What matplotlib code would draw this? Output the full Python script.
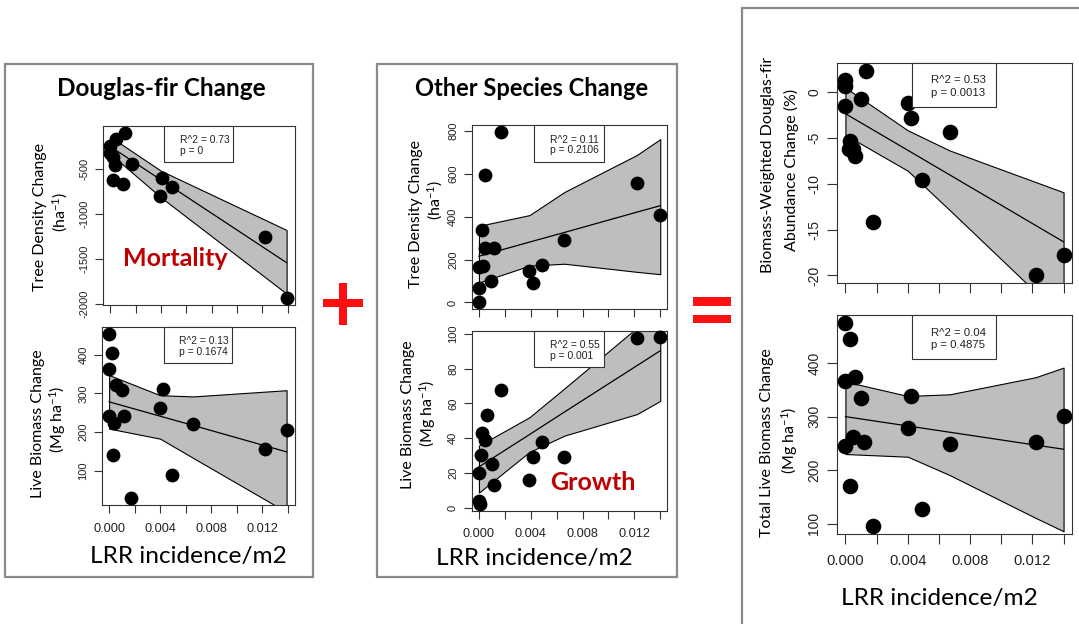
import matplotlib
matplotlib.use("Agg")
import matplotlib.pyplot as plt
from matplotlib.patches import Rectangle

W, H = 1079, 624
plt.rcParams['mathtext.fontset'] = 'custom'
plt.rcParams['mathtext.rm'] = 'Lato'
plt.rcParams['mathtext.it'] = 'Lato:italic'
plt.rcParams['mathtext.bf'] = 'Lato:bold'

# ---------------- data ----------------
x_ticks = [0.000, 0.002, 0.004, 0.006, 0.008, 0.010, 0.012, 0.014]
x_ticklabels = ["0.000", "", "0.004", "", "0.008", "", "0.012", ""]

# Douglas-fir: tree density change
dfd_x = [0.0012, 0.0005, 0.0000, 0.0000, 0.0002, 0.0004, 0.0017, 0.0002, 0.0010,
         0.0041, 0.0049, 0.0039, 0.0122, 0.0139]
dfd_y = [-97, -170, -241, -326, -370, -456, -448, -622, -667, -604, -704, -800, -1259, -1937]
dfd_bx = [0.0, 0.004, 0.0139]
dfd_lo = [-330, -815, -1885]
dfd_fit = [-250, -621, -1541]
dfd_hi = [-141, -520, -1178]
dfd_stats = ["R^2 = 0.73", "p = 0"]
dfd_yticks = [-2000, -1500, -1000, -500]

# Douglas-fir: live biomass change
dfb_x = [0.0000, 0.0002, 0.0000, 0.0005, 0.0010, 0.0000, 0.0004, 0.0012, 0.0003,
         0.0017, 0.0042, 0.0040, 0.0049, 0.0066, 0.0122, 0.0139]
dfb_y = [454, 403, 362, 321, 308, 241, 224, 241, 140, 29, 311, 263, 90, 222, 156, 205]
dfb_bx = [0.0, 0.004, 0.0066, 0.0139]
dfb_lo = [209, 183, 133, -6]
dfb_fit = [278, 241, 217, 149]
dfb_hi = [347, 295, 292, 308]
dfb_stats = ["R^2 = 0.13", "p = 0.1674"]
dfb_yticks = [100, 200, 300, 400]

# Other species: tree density change
osd_x = [0.0017, 0.0005, 0.0002, 0.0005, 0.0012, 0.0000, 0.0003, 0.0009, 0.0000,
         0.0000, 0.0039, 0.0042, 0.0049, 0.0066, 0.0122, 0.0140]
osd_y = [797, 595, 339, 256, 256, 166, 169, 98, 66, 0, 145, 93, 176, 290, 560, 410]
osd_bx = [0.0, 0.0039, 0.0066, 0.0122, 0.014]
osd_lo = [93, 172, 181, 143, 132]
osd_fit = [216, 282, 327, 422, 452]
osd_hi = [358, 408, 516, 689, 763]
osd_stats = ["R^2 = 0.11", "p = 0.2106"]
osd_yticks = [0, 200, 400, 600, 800]

# Other species: live biomass change
osb_x = [0.0000, 0.0001, 0.0000, 0.00015, 0.0002, 0.0005, 0.0006, 0.0010, 0.0012,
         0.0017, 0.0039, 0.0042, 0.0049, 0.0066, 0.0122, 0.0140]
osb_y = [4, 2, 20, 30, 43, 39, 53, 25, 13, 67.5, 16, 29, 38, 29, 97.5, 98]
osb_bx = [0.0, 0.0039, 0.0066, 0.0122, 0.014]
osb_lo = [8.6, 32, 41.4, 53.8, 61.4]
osb_fit = [23.4, 42.0, 55.0, 81.7, 90.3]
osb_hi = [35.7, 52, 68.6, 103.6, 114.6]
osb_stats = ["R^2 = 0.55", "p = 0.001"]
osb_yticks = [0, 20, 40, 60, 80, 100]

# Biomass-weighted Douglas-fir abundance change (%)
bw_x = [0.0000, 0.0000, 0.0000, 0.0013, 0.0010, 0.0003, 0.0002, 0.0005, 0.0006,
        0.00175, 0.0040, 0.0042, 0.0049, 0.0067, 0.0122, 0.0140]
bw_y = [1.28, 0.66, -1.54, 2.27, -0.74, -5.4, -6.24, -6.24, -6.98, -14.14,
        -1.21, -2.86, -9.62, -4.41, -19.9, -17.74]
bw_bx = [0.0, 0.004, 0.0067, 0.014]
bw_lo = [-4.7, -8.6, -12.9, -24.7]
bw_fit = [-2.39, -6.37, -9.06, -16.34]
bw_hi = [0.44, -4.2, -6.4, -10.95]
bw_stats = ["R^2 = 0.53", "p = 0.0013"]
bw_yticks = [-20, -15, -10, -5, 0]

# Total live biomass change
tb_x = [0.0000, 0.0003, 0.0000, 0.0006, 0.0010, 0.0000, 0.0005, 0.0012, 0.0003,
        0.0018, 0.0042, 0.0040, 0.0049, 0.0067, 0.0122, 0.0140]
tb_y = [475, 446, 367, 375, 334, 245, 262, 253, 170, 95, 339, 278, 128, 249, 253, 302]
tb_bx = [0.0, 0.004, 0.0067, 0.0122, 0.014]
tb_lo = [230, 225, 190.5, 110.6, 85.5]
tb_fit = [300, 282.6, 270.8, 246.8, 239]
tb_hi = [365.5, 338.7, 341.8, 373.7, 391.7]
tb_stats = ["R^2 = 0.04", "p = 0.4875"]
tb_yticks = [100, 200, 300, 400]

# ---------------- helpers ----------------
fig = plt.figure(figsize=(W / 100, H / 100), dpi=100)


def fx(px):
    return px / W


def fy(py):
    return 1 - py / H


def axes_px(x0, y0, x1, y1):
    return fig.add_axes([fx(x0), fy(y1), fx(x1) - fx(x0), (y1 - y0) / H])


def panel(rect, xs, ys, bx, lo, fit, hi, yticks, stats, show_xlabels,
          ms, xlab_size, ylab_size, tick_len, stat_size):
    ax = axes_px(*rect)
    # R-style 4% extension from the points only
    xr = 0.014 - 0.0
    ax.set_xlim(0.0 - 0.04 * xr, 0.014 + 0.04 * xr)
    ymin, ymax = min(ys), max(ys)
    yr = ymax - ymin
    ax.set_ylim(ymin - 0.04 * yr, ymax + 0.04 * yr)
    ax.fill_between(bx, lo, hi, facecolor='#BEBEBE', edgecolor='black',
                    linewidth=0.8, zorder=2)
    ax.plot(bx, fit, color='black', linewidth=0.9, zorder=3)
    ax.scatter(xs, ys, s=ms, color='black', zorder=4, clip_on=False)
    ax.set_xticks(x_ticks)
    if show_xlabels:
        ax.set_xticklabels(x_ticklabels, fontsize=xlab_size,
                           family='Liberation Sans', color='#222222')
    else:
        ax.set_xticklabels([])
    ax.set_yticks(yticks)
    ax.set_yticklabels([str(v) for v in yticks], fontsize=ylab_size,
                       family='Liberation Sans', color='#222222',
                       rotation=90, va='center')
    ax.tick_params(direction='out', length=tick_len, width=0.8, color='#333333')
    ax.tick_params(axis='x', pad=7)
    ax.tick_params(axis='y', pad=4)
    for s in ax.spines.values():
        s.set_linewidth(0.8)
        s.set_color('#333333')
    # legend box
    ax.add_patch(Rectangle((0.32, 0.80), 0.355, 0.20, transform=ax.transAxes,
                           facecolor='white', edgecolor='#333333',
                           linewidth=0.8, zorder=6, clip_on=False))
    ax.text(0.40, 0.92, stats[0], transform=ax.transAxes, fontsize=stat_size,
            family='Liberation Sans', va='center', ha='left', zorder=7,
            color='#222222')
    ax.text(0.40, 0.862, stats[1], transform=ax.transAxes, fontsize=stat_size,
            family='Liberation Sans', va='center', ha='left', zorder=7,
            color='#222222')
    return ax


def ftext(px, py, s, size, weight='normal', color='black', rot=0):
    fig.text(fx(px), fy(py), s, fontsize=size, fontweight=weight, color=color,
             family='Lato', ha='center', va='center', rotation=rot)


def frect(x0, y0, x1, y1, **kw):
    fig.add_artist(Rectangle((fx(x0), fy(y1)), fx(x1) - fx(x0), (y1 - y0) / H,
                             transform=fig.transFigure, **kw))


# frames
frame = dict(facecolor='none', edgecolor='#8A8A8A', linewidth=1.6)
frect(5, 64, 313, 577, **frame)
frect(377, 64, 677, 577, **frame)
frect(742, 8, 1090, 640, **frame)

# panels
small = dict(ms=80, xlab_size=9.2, ylab_size=8, tick_len=5.8, stat_size=7.4)
big = dict(ms=105, xlab_size=10.6, ylab_size=10, tick_len=7, stat_size=8.2)
panel((103, 126, 295, 305), dfd_x, dfd_y, dfd_bx, dfd_lo, dfd_fit, dfd_hi,
      dfd_yticks, dfd_stats, False, **small)
panel((102, 327, 295, 505), dfb_x, dfb_y, dfb_bx, dfb_lo, dfb_fit, dfb_hi,
      dfb_yticks, dfb_stats, True, **small)
panel((471.7, 125, 667.5, 309.3), osd_x, osd_y, osd_bx, osd_lo, osd_fit, osd_hi,
      osd_yticks, osd_stats, False, **small)
panel((471.7, 330.7, 667.5, 510.7), osb_x, osb_y, osb_bx, osb_lo, osb_fit, osb_hi,
      osb_yticks, osb_stats, True, **small)
panel((836.7, 62.7, 1072.3, 282.7), bw_x, bw_y, bw_bx, bw_lo, bw_fit, bw_hi,
      bw_yticks, bw_stats, False, **big)
panel((836.7, 315, 1072.3, 534.3), tb_x, tb_y, tb_bx, tb_lo, tb_fit, tb_hi,
      tb_yticks, tb_stats, True, **big)

# titles
ftext(161, 88, "Douglas-fir Change", 17.5, weight='bold')
ftext(532, 88, "Other Species Change", 17, weight='bold')

# axis labels
ftext(40, 217, "Tree Density Change", 11.5, rot=90)
ftext(60, 212, r"(ha$^{-1}$)", 11.5, rot=90)
ftext(38, 424, "Live Biomass Change", 11.5, rot=90)
ftext(58, 419, r"(Mg ha$^{-1}$)", 11.5, rot=90)
ftext(416, 214, "Tree Density Change", 11.5, rot=90)
ftext(435, 200, r"(ha$^{-1}$)", 11.5, rot=90)
ftext(408, 415, "Live Biomass Change", 11.5, rot=90)
ftext(428, 413, r"(Mg ha$^{-1}$)", 11.5, rot=90)
ftext(768, 165, "Biomass-Weighted Douglas-fir", 11.5, rot=90)
ftext(791, 170, "Abundance Change (%)", 11.5, rot=90)
ftext(767, 443, "Total Live Biomass Change", 11.5, rot=90)
ftext(790, 440, r"(Mg ha$^{-1}$)", 11.5, rot=90)

ftext(188, 556, "LRR incidence/m2", 17.6)
ftext(534, 558, "LRR incidence/m2", 17.6)
ftext(939, 598, "LRR incidence/m2", 17.6)

# annotations
ftext(175, 258, "Mortality", 18, weight='bold', color='#C00000')
ftext(593, 483, "Growth", 18, weight='bold', color='#C00000')

# plus and equals signs
red = dict(facecolor='#FF1010', edgecolor='none')
frect(323.3, 299.5, 363.3, 307.3, **red)
frect(339.3, 283.3, 347.3, 325, **red)
frect(693.3, 297.3, 730.7, 306, **red)
frect(693.3, 315, 730.7, 323.3, **red)

fig.savefig("out.png", dpi=100, facecolor='white')
